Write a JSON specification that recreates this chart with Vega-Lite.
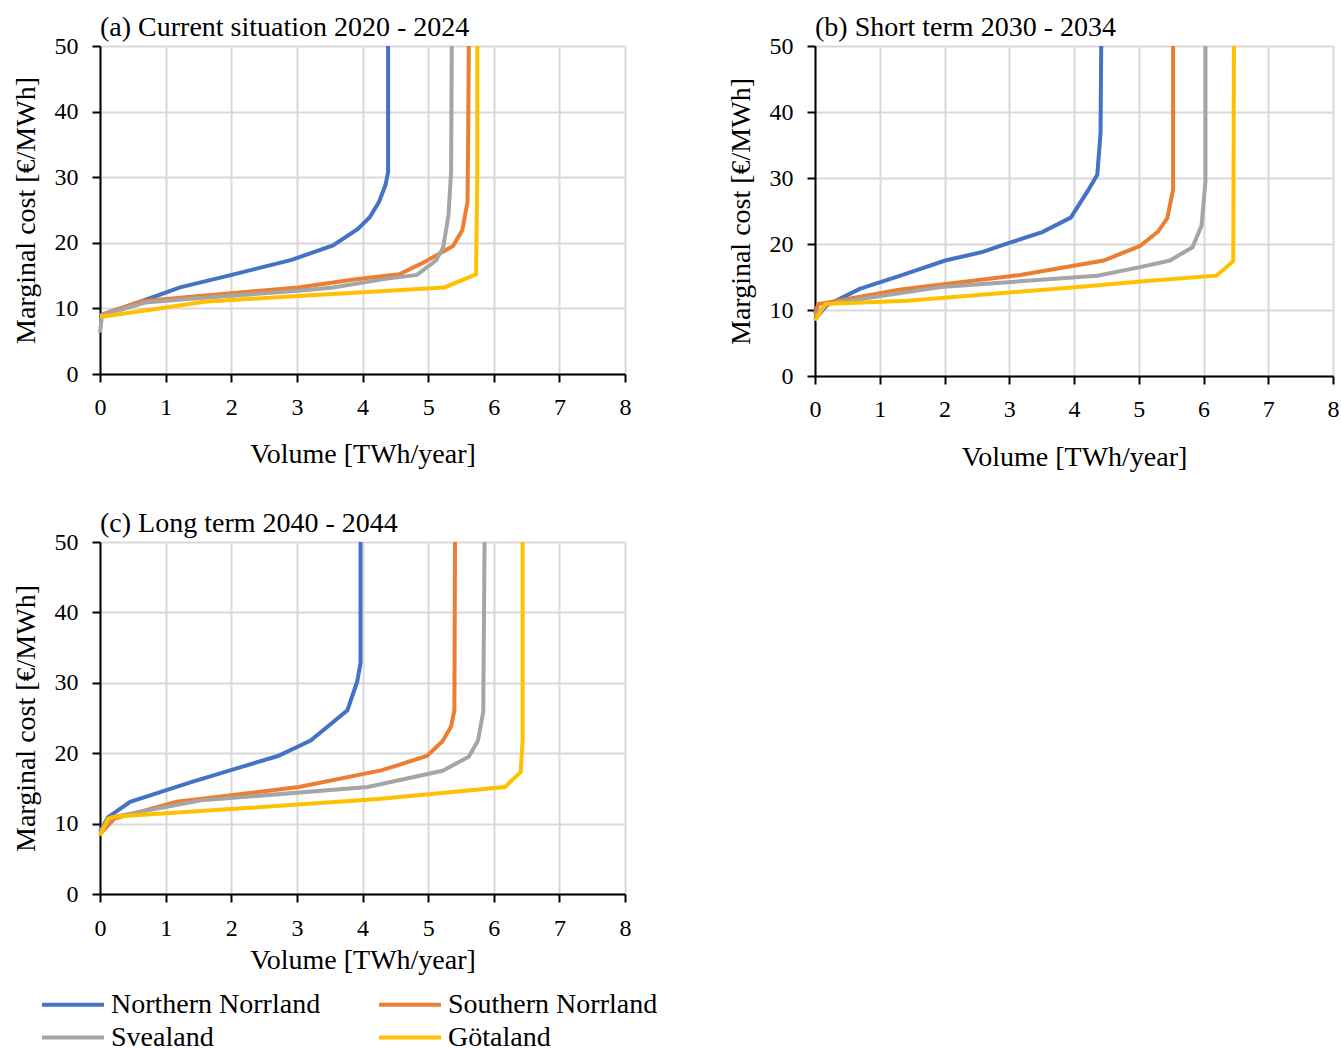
{
  "$schema": "https://vega.github.io/schema/vega-lite/v6.json",
  "background": "white",
  "padding": {"left": 12, "top": 14, "right": 0, "bottom": 5},
  "config": {
    "font": "Liberation Serif",
    "view": {"stroke": null},
    "axis": {
      "domainColor": "black", "domainWidth": 2, "tickColor": "black", "tickWidth": 2, "tickSize": 8,
      "gridColor": "#d9d9d9", "gridWidth": 2, "labelFont": "Liberation Serif", "labelFontSize": 24,
      "labelColor": "black", "titleFont": "Liberation Serif", "titleFontSize": 28, "titleFontWeight": "normal",
      "titleColor": "black", "labelFlush": false
    },
    "title": {"font": "Liberation Serif", "fontSize": 28, "fontWeight": "normal", "anchor": "start", "frame": "group", "color": "black", "offset": -8},
    "legend": {
      "orient": "none", "legendX": -60, "legendY": 945, "columns": 2, "direction": "horizontal", "columnPadding": 56, "rowPadding": 4,
      "symbolType": "stroke", "symbolSize": 3844, "symbolStrokeWidth": 4, "clipHeight": 27, "labelFont": "Liberation Serif",
      "labelFontSize": 28, "labelColor": "black", "labelOffset": 5, "title": null, "labelLimit": 400
    }
  },
  "datasets": {
    "curves": [
      {"panel": "a", "region": "Northern Norrland", "volume": 0, "cost": 8.95},
      {"panel": "a", "region": "Northern Norrland", "volume": 0.58, "cost": 10.9},
      {"panel": "a", "region": "Northern Norrland", "volume": 1.22, "cost": 13.2},
      {"panel": "a", "region": "Northern Norrland", "volume": 1.96, "cost": 15.0},
      {"panel": "a", "region": "Northern Norrland", "volume": 2.92, "cost": 17.4},
      {"panel": "a", "region": "Northern Norrland", "volume": 3.55, "cost": 19.6},
      {"panel": "a", "region": "Northern Norrland", "volume": 3.93, "cost": 22.1},
      {"panel": "a", "region": "Northern Norrland", "volume": 4.11, "cost": 23.9},
      {"panel": "a", "region": "Northern Norrland", "volume": 4.25, "cost": 26.2},
      {"panel": "a", "region": "Northern Norrland", "volume": 4.35, "cost": 28.8},
      {"panel": "a", "region": "Northern Norrland", "volume": 4.39, "cost": 30.8},
      {"panel": "a", "region": "Northern Norrland", "volume": 4.39, "cost": 50},
      {"panel": "a", "region": "Southern Norrland", "volume": 0, "cost": 8.95},
      {"panel": "a", "region": "Southern Norrland", "volume": 0.64, "cost": 11.1},
      {"panel": "a", "region": "Southern Norrland", "volume": 1.43, "cost": 11.8},
      {"panel": "a", "region": "Southern Norrland", "volume": 3.02, "cost": 13.2},
      {"panel": "a", "region": "Southern Norrland", "volume": 3.87, "cost": 14.4},
      {"panel": "a", "region": "Southern Norrland", "volume": 4.56, "cost": 15.2},
      {"panel": "a", "region": "Southern Norrland", "volume": 4.93, "cost": 17.0},
      {"panel": "a", "region": "Southern Norrland", "volume": 5.38, "cost": 19.5},
      {"panel": "a", "region": "Southern Norrland", "volume": 5.52, "cost": 21.9},
      {"panel": "a", "region": "Southern Norrland", "volume": 5.6, "cost": 26.2},
      {"panel": "a", "region": "Southern Norrland", "volume": 5.61, "cost": 35.9},
      {"panel": "a", "region": "Southern Norrland", "volume": 5.62, "cost": 50},
      {"panel": "a", "region": "Svealand", "volume": 0, "cost": 6.3},
      {"panel": "a", "region": "Svealand", "volume": 0.03, "cost": 8.95},
      {"panel": "a", "region": "Svealand", "volume": 0.69, "cost": 10.9},
      {"panel": "a", "region": "Svealand", "volume": 1.43, "cost": 11.5},
      {"panel": "a", "region": "Svealand", "volume": 3.02, "cost": 12.7},
      {"panel": "a", "region": "Svealand", "volume": 3.55, "cost": 13.2},
      {"panel": "a", "region": "Svealand", "volume": 4.35, "cost": 14.5},
      {"panel": "a", "region": "Svealand", "volume": 4.83, "cost": 15.1},
      {"panel": "a", "region": "Svealand", "volume": 5.12, "cost": 17.3},
      {"panel": "a", "region": "Svealand", "volume": 5.23, "cost": 19.3},
      {"panel": "a", "region": "Svealand", "volume": 5.31, "cost": 24.2},
      {"panel": "a", "region": "Svealand", "volume": 5.35, "cost": 30.8},
      {"panel": "a", "region": "Svealand", "volume": 5.36, "cost": 50},
      {"panel": "a", "region": "Götaland", "volume": 0, "cost": 8.7},
      {"panel": "a", "region": "Götaland", "volume": 0.98, "cost": 10.1},
      {"panel": "a", "region": "Götaland", "volume": 1.59, "cost": 11.0},
      {"panel": "a", "region": "Götaland", "volume": 3.02, "cost": 11.9},
      {"panel": "a", "region": "Götaland", "volume": 5.25, "cost": 13.2},
      {"panel": "a", "region": "Götaland", "volume": 5.73, "cost": 15.2},
      {"panel": "a", "region": "Götaland", "volume": 5.75, "cost": 30.8},
      {"panel": "a", "region": "Götaland", "volume": 5.75, "cost": 50},

      {"panel": "b", "region": "Northern Norrland", "volume": 0, "cost": 8.6},
      {"panel": "b", "region": "Northern Norrland", "volume": 0.18, "cost": 10.7},
      {"panel": "b", "region": "Northern Norrland", "volume": 0.69, "cost": 13.2},
      {"panel": "b", "region": "Northern Norrland", "volume": 1.32, "cost": 15.2},
      {"panel": "b", "region": "Northern Norrland", "volume": 2.01, "cost": 17.5},
      {"panel": "b", "region": "Northern Norrland", "volume": 2.59, "cost": 18.8},
      {"panel": "b", "region": "Northern Norrland", "volume": 3.01, "cost": 20.2},
      {"panel": "b", "region": "Northern Norrland", "volume": 3.51, "cost": 21.8},
      {"panel": "b", "region": "Northern Norrland", "volume": 3.95, "cost": 24.0},
      {"panel": "b", "region": "Northern Norrland", "volume": 4.21, "cost": 28.0},
      {"panel": "b", "region": "Northern Norrland", "volume": 4.36, "cost": 30.5},
      {"panel": "b", "region": "Northern Norrland", "volume": 4.41, "cost": 36.8},
      {"panel": "b", "region": "Northern Norrland", "volume": 4.42, "cost": 50},
      {"panel": "b", "region": "Southern Norrland", "volume": 0, "cost": 9.4},
      {"panel": "b", "region": "Southern Norrland", "volume": 0.05, "cost": 10.9},
      {"panel": "b", "region": "Southern Norrland", "volume": 0.18, "cost": 11.1},
      {"panel": "b", "region": "Southern Norrland", "volume": 1.32, "cost": 13.1},
      {"panel": "b", "region": "Southern Norrland", "volume": 3.17, "cost": 15.3},
      {"panel": "b", "region": "Southern Norrland", "volume": 4.46, "cost": 17.5},
      {"panel": "b", "region": "Southern Norrland", "volume": 5.02, "cost": 19.7},
      {"panel": "b", "region": "Southern Norrland", "volume": 5.3, "cost": 21.9},
      {"panel": "b", "region": "Southern Norrland", "volume": 5.44, "cost": 23.9},
      {"panel": "b", "region": "Southern Norrland", "volume": 5.53, "cost": 28.2},
      {"panel": "b", "region": "Southern Norrland", "volume": 5.53, "cost": 50},
      {"panel": "b", "region": "Svealand", "volume": 0, "cost": 9.1},
      {"panel": "b", "region": "Svealand", "volume": 0.18, "cost": 10.9},
      {"panel": "b", "region": "Svealand", "volume": 1.95, "cost": 13.5},
      {"panel": "b", "region": "Svealand", "volume": 4.36, "cost": 15.2},
      {"panel": "b", "region": "Svealand", "volume": 5.02, "cost": 16.5},
      {"panel": "b", "region": "Svealand", "volume": 5.48, "cost": 17.5},
      {"panel": "b", "region": "Svealand", "volume": 5.83, "cost": 19.5},
      {"panel": "b", "region": "Svealand", "volume": 5.97, "cost": 22.8},
      {"panel": "b", "region": "Svealand", "volume": 6.03, "cost": 29.4},
      {"panel": "b", "region": "Svealand", "volume": 6.03, "cost": 50},
      {"panel": "b", "region": "Götaland", "volume": 0, "cost": 8.4},
      {"panel": "b", "region": "Götaland", "volume": 0.16, "cost": 10.9},
      {"panel": "b", "region": "Götaland", "volume": 1.43, "cost": 11.4},
      {"panel": "b", "region": "Götaland", "volume": 4.07, "cost": 13.5},
      {"panel": "b", "region": "Götaland", "volume": 5.12, "cost": 14.4},
      {"panel": "b", "region": "Götaland", "volume": 6.2, "cost": 15.2},
      {"panel": "b", "region": "Götaland", "volume": 6.46, "cost": 17.4},
      {"panel": "b", "region": "Götaland", "volume": 6.47, "cost": 50},

      {"panel": "c", "region": "Northern Norrland", "volume": 0, "cost": 8.8},
      {"panel": "c", "region": "Northern Norrland", "volume": 0.12, "cost": 10.9},
      {"panel": "c", "region": "Northern Norrland", "volume": 0.46, "cost": 13.1},
      {"panel": "c", "region": "Northern Norrland", "volume": 1.39, "cost": 15.9},
      {"panel": "c", "region": "Northern Norrland", "volume": 2.07, "cost": 17.8},
      {"panel": "c", "region": "Northern Norrland", "volume": 2.71, "cost": 19.6},
      {"panel": "c", "region": "Northern Norrland", "volume": 3.21, "cost": 21.8},
      {"panel": "c", "region": "Northern Norrland", "volume": 3.77, "cost": 26.1},
      {"panel": "c", "region": "Northern Norrland", "volume": 3.92, "cost": 30.2},
      {"panel": "c", "region": "Northern Norrland", "volume": 3.97, "cost": 32.8},
      {"panel": "c", "region": "Northern Norrland", "volume": 3.97, "cost": 50},
      {"panel": "c", "region": "Southern Norrland", "volume": 0, "cost": 8.5},
      {"panel": "c", "region": "Southern Norrland", "volume": 0.22, "cost": 10.7},
      {"panel": "c", "region": "Southern Norrland", "volume": 1.17, "cost": 13.1},
      {"panel": "c", "region": "Southern Norrland", "volume": 3.03, "cost": 15.2},
      {"panel": "c", "region": "Southern Norrland", "volume": 4.3, "cost": 17.6},
      {"panel": "c", "region": "Southern Norrland", "volume": 4.98, "cost": 19.6},
      {"panel": "c", "region": "Southern Norrland", "volume": 5.22, "cost": 21.7},
      {"panel": "c", "region": "Southern Norrland", "volume": 5.35, "cost": 23.8},
      {"panel": "c", "region": "Southern Norrland", "volume": 5.4, "cost": 26.1},
      {"panel": "c", "region": "Southern Norrland", "volume": 5.41, "cost": 50},
      {"panel": "c", "region": "Svealand", "volume": 0, "cost": 8.8},
      {"panel": "c", "region": "Svealand", "volume": 0.17, "cost": 10.9},
      {"panel": "c", "region": "Svealand", "volume": 1.54, "cost": 13.3},
      {"panel": "c", "region": "Svealand", "volume": 4.08, "cost": 15.2},
      {"panel": "c", "region": "Svealand", "volume": 5.22, "cost": 17.5},
      {"panel": "c", "region": "Svealand", "volume": 5.62, "cost": 19.5},
      {"panel": "c", "region": "Svealand", "volume": 5.76, "cost": 21.8},
      {"panel": "c", "region": "Svealand", "volume": 5.84, "cost": 25.9},
      {"panel": "c", "region": "Svealand", "volume": 5.86, "cost": 50},
      {"panel": "c", "region": "Götaland", "volume": 0, "cost": 8.3},
      {"panel": "c", "region": "Götaland", "volume": 0.12, "cost": 10.7},
      {"panel": "c", "region": "Götaland", "volume": 0.25, "cost": 11.0},
      {"panel": "c", "region": "Götaland", "volume": 2.23, "cost": 12.2},
      {"panel": "c", "region": "Götaland", "volume": 4.24, "cost": 13.5},
      {"panel": "c", "region": "Götaland", "volume": 6.17, "cost": 15.2},
      {"panel": "c", "region": "Götaland", "volume": 6.41, "cost": 17.3},
      {"panel": "c", "region": "Götaland", "volume": 6.44, "cost": 21.8},
      {"panel": "c", "region": "Götaland", "volume": 6.44, "cost": 50}
    ]
  },
  "spacing": 39,
  "vconcat": [
    {
      "spacing": 96,
      "hconcat": [
        {
          "title": "(a) Current situation 2020 - 2024",
          "width": 525, "height": 328,
          "data": {"name": "curves"},
          "transform": [{"filter": "datum.panel === 'a'"}],
          "mark": {"type": "line", "strokeWidth": 4},
          "encoding": {
            "x": {"field": "volume", "type": "quantitative", "scale": {"domain": [0, 8], "nice": false}, "axis": {"values": [0,1,2,3,4,5,6,7,8], "title": "Volume [TWh/year]", "labelFont": "Liberation Serif", "labelPadding": 13, "titlePadding": 21}},
            "y": {"field": "cost", "type": "quantitative", "scale": {"domain": [0, 50], "nice": false}, "axis": {"values": [0,10,20,30,40,50], "title": "Marginal cost [€/MWh]", "labelFont": "Liberation Serif", "labelPadding": 14, "titlePadding": 14}},
            "color": {"field": "region", "type": "nominal", "scale": {"domain": ["Northern Norrland", "Southern Norrland", "Svealand", "Götaland"], "range": ["#4472C4", "#ED7D31", "#A5A5A5", "#FFC000"]}},
            "order": {"field": "cost", "type": "quantitative"}
          }
        },
        {
          "title": "(b) Short term 2030 - 2034",
          "width": 518, "height": 330,
          "data": {"name": "curves"},
          "transform": [{"filter": "datum.panel === 'b'"}],
          "mark": {"type": "line", "strokeWidth": 4},
          "encoding": {
            "x": {"field": "volume", "type": "quantitative", "scale": {"domain": [0, 8], "nice": false}, "axis": {"values": [0,1,2,3,4,5,6,7,8], "title": "Volume [TWh/year]", "labelFont": "Liberation Serif", "labelPadding": 13, "titlePadding": 22}},
            "y": {"field": "cost", "type": "quantitative", "scale": {"domain": [0, 50], "nice": false}, "axis": {"values": [0,10,20,30,40,50], "title": "Marginal cost [€/MWh]", "labelFont": "Liberation Serif", "labelPadding": 14, "titlePadding": 14}},
            "color": {"field": "region", "type": "nominal", "scale": {"domain": ["Northern Norrland", "Southern Norrland", "Svealand", "Götaland"], "range": ["#4472C4", "#ED7D31", "#A5A5A5", "#FFC000"]}},
            "order": {"field": "cost", "type": "quantitative"}
          }
        }
      ]
    },
    {
      "title": "(c) Long term 2040 - 2044",
      "width": 525, "height": 352,
      "data": {"name": "curves"},
      "transform": [{"filter": "datum.panel === 'c'"}],
      "mark": {"type": "line", "strokeWidth": 4},
      "encoding": {
        "x": {"field": "volume", "type": "quantitative", "scale": {"domain": [0, 8], "nice": false}, "axis": {"values": [0,1,2,3,4,5,6,7,8], "title": "Volume [TWh/year]", "labelFont": "Liberation Serif", "labelPadding": 14, "titlePadding": 6}},
        "y": {"field": "cost", "type": "quantitative", "scale": {"domain": [0, 50], "nice": false}, "axis": {"values": [0,10,20,30,40,50], "title": "Marginal cost [€/MWh]", "labelFont": "Liberation Serif", "labelPadding": 14, "titlePadding": 14}},
        "color": {"field": "region", "type": "nominal", "scale": {"domain": ["Northern Norrland", "Southern Norrland", "Svealand", "Götaland"], "range": ["#4472C4", "#ED7D31", "#A5A5A5", "#FFC000"]}},
        "order": {"field": "cost", "type": "quantitative"}
      }
    }
  ]
}
